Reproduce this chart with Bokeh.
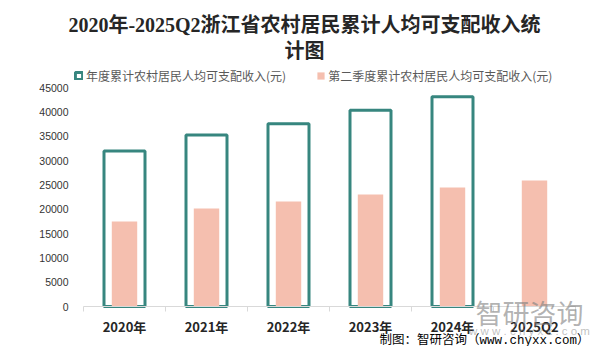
from bokeh.plotting import figure
from bokeh.models import FixedTicker, Label, Legend, LegendItem
from bokeh.embed import file_html
from bokeh.resources import INLINE

# ---------------- data ----------------
categories = ["2020年", "2021年", "2022年", "2023年", "2024年", "2025Q2"]
annual_categories = ["2020年", "2021年", "2022年", "2023年", "2024年"]
annual_income = [31930, 35247, 37565, 40311, 43093]
q2_income = [17470, 20140, 21580, 23010, 24450, 25890]
y_ticks = [0, 5000, 10000, 15000, 20000, 25000, 30000, 35000, 40000, 45000]
y_max = 45000

title_line1 = "2020年-2025Q2浙江省农村居民累计人均可支配收入统"
title_line2 = "计图"
legend_annual = "年度累计农村居民人均可支配收入(元)"
legend_q2 = "第二季度累计农村居民人均可支配收入(元)"
source_note = "制图：智研咨询（www.chyxx.com）"
watermark_name = "智研咨询"
watermark_url = "w w w . c h y x x . c o m"

# ---------------- layout (pixels) ----------------
W, H = 591, 346
PLOT_LEFT, PLOT_RIGHT = 83, 575      # where the category axis starts / ends
PLOT_TOP, PLOT_BOTTOM = 87, 306      # pixel rows of y_max and 0

TEAL = "#37867f"
PINK = "#f5bfaf"
CJK = "Noto Sans CJK SC"

n = len(categories)
px_per_cat = (PLOT_RIGHT - PLOT_LEFT) / n
px_per_val = (PLOT_BOTTOM - PLOT_TOP) / y_max
x_range = (-PLOT_LEFT / px_per_cat, (W - PLOT_LEFT) / px_per_cat)
y_range = (-(H - PLOT_BOTTOM) / px_per_val, y_max + PLOT_TOP / px_per_val)

x_centers = [i + 0.5 for i in range(n)]
x_of = dict(zip(categories, x_centers))
annual_x = [x_of[c] for c in annual_categories]

p = figure(width=W, height=H, x_range=x_range, y_range=y_range,
           output_backend="svg", toolbar_location=None,
           min_border_left=0, min_border_right=0, min_border_top=0, min_border_bottom=0)
p.xgrid.visible = False
p.ygrid.visible = False
p.outline_line_color = None
p.background_fill_color = "white"
p.border_fill_color = "white"

teal = p.vbar(x=annual_x, top=annual_income, bottom=0, width=0.5,
              fill_color=None, line_color=TEAL, line_width=3)
pink = p.vbar(x=x_centers, top=q2_income, bottom=0, width=0.31,
              fill_color=PINK, line_color=None)

# y axis, pinned at x = 0
p.yaxis.fixed_location = 0
p.yaxis.ticker = FixedTicker(ticks=y_ticks)
p.yaxis.axis_line_color = None
p.yaxis.major_tick_line_color = None
p.yaxis.minor_tick_line_color = None
p.yaxis.major_tick_out = 0
p.yaxis.major_tick_in = 0
p.yaxis.major_label_standoff = 15
p.yaxis.major_label_text_font = "Liberation Sans"
p.yaxis.major_label_text_font_size = "10.5px"
p.yaxis.major_label_text_color = "#333333"

# x axis, pinned at y = 0
p.xaxis.fixed_location = 0
p.xaxis.bounds = (0, n)
p.xaxis.ticker = FixedTicker(ticks=x_centers, minor_ticks=list(range(n + 1)))
p.xaxis.major_label_overrides = {x: c for x, c in zip(x_centers, categories)}
p.xaxis.axis_line_color = "#d9d9d9"
p.xaxis.major_tick_out = 0
p.xaxis.major_tick_in = 0
p.xaxis.major_tick_line_color = None
p.xaxis.minor_tick_out = 5
p.xaxis.minor_tick_in = 0
p.xaxis.minor_tick_line_color = "#d9d9d9"
p.xaxis.major_label_standoff = 5
p.xaxis.major_label_text_font = CJK
p.xaxis.major_label_text_font_style = "bold"
p.xaxis.major_label_text_font_size = "13px"
p.xaxis.major_label_text_color = "#262626"

# legend (screen px from the bottom-left of the frame = figure)
legend = Legend(items=[LegendItem(label=legend_annual, renderers=[teal]),
                       LegendItem(label=legend_q2, renderers=[pink])],
                orientation="horizontal", location=(74, H - 84),
                glyph_width=9, glyph_height=9, label_standoff=3, spacing=30,
                padding=0, margin=0, border_line_color=None, background_fill_alpha=0,
                label_text_font=CJK, label_text_font_size="12px",
                label_text_color="#595959", label_height=12)
p.add_layout(legend)

title_font = "Liberation Serif, Noto Sans CJK SC"
for txt, ty in ((title_line1, 24), (title_line2, 50)):
    p.add_layout(Label(x=304, y=H - ty, x_units="screen", y_units="screen", text=txt,
                       text_align="center", text_baseline="middle", text_font=title_font,
                       text_font_style="bold", text_font_size="20px", text_color="#262626"))

# watermark
p.add_layout(Label(x=529, y=H - 312, x_units="screen", y_units="screen", text=watermark_name,
                   text_align="center", text_baseline="middle", text_font=CJK,
                   text_font_size="27px", text_color="#7f7f7f", text_alpha=0.6))
p.add_layout(Label(x=529, y=H - 330, x_units="screen", y_units="screen", text=watermark_url,
                   text_align="center", text_baseline="middle", text_font="Liberation Sans",
                   text_font_size="11.5px", text_color="#7f7f7f", text_alpha=0.5))

# source note
p.add_layout(Label(x=589, y=H - 340, x_units="screen", y_units="screen", text=source_note,
                   text_align="right", text_baseline="middle",
                   text_font="Liberation Mono, Noto Sans CJK SC",
                   text_font_size="12.5px", text_color="#000000"))

open("out.html", "w").write(file_html(p, INLINE))
